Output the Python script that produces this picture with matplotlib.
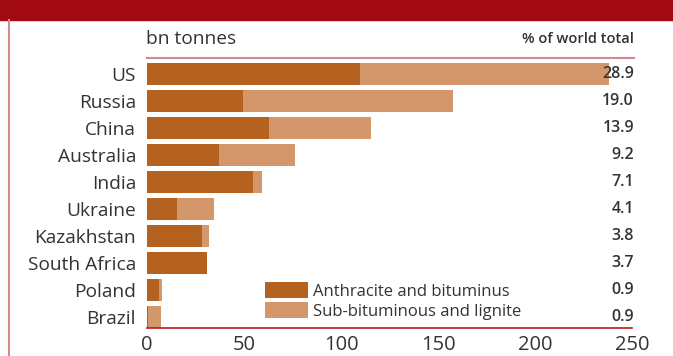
import matplotlib.pyplot as plt
from matplotlib.patches import Rectangle
from matplotlib.lines import Line2D

plt.rcParams['font.family'] = ['Open Sans', 'DejaVu Sans']

countries = ['US', 'Russia', 'China', 'Australia', 'India', 'Ukraine',
             'Kazakhstan', 'South Africa', 'Poland', 'Brazil']
anthracite = [110, 49.5, 63, 37, 54.5, 15.5, 28.5, 31, 6.2, 0.5]
sub_bituminous = [128, 108, 52.5, 39.5, 4.8, 19, 3.5, 0, 1.5, 6.7]
share = ['28.9', '19.0', '13.9', '9.2', '7.1', '4.1', '3.8', '3.7', '0.9', '0.9']
xticks = [0, 50, 100, 150, 200, 250]

dark = '#B5611F'
light = '#D4976B'
text_col = '#333333'

fig = plt.figure(figsize=(6.73, 3.56), dpi=100)
W, H = 673, 356

# red banner and left border
fig.patches.append(Rectangle((0, 1 - 20 / H), 1, 20 / H, transform=fig.transFigure,
                             color='#A00A10', zorder=0))
fig.lines.append(Line2D([9 / W, 9 / W], [0, 1 - 20 / H], transform=fig.transFigure,
                        color='#D08A8E', lw=1.5))

ax = fig.add_axes([147 / W, 1 - 328 / H, (632 - 147) / W, (328 - 58) / H])
y = list(range(len(countries)))
ax.barh(y, anthracite, height=0.81, color=dark, label='Anthracite and bituminus')
ax.barh(y, sub_bituminous, left=anthracite, height=0.81, color=light,
        label='Sub-bituminous and lignite')

ax.set_xlim(0, 250)
ax.set_ylim(9.41, -0.6)
ax.set_yticks(y)
ax.set_yticklabels(countries, fontsize=13.8, color=text_col)
ax.set_xticks(xticks)
ax.set_xticklabels([str(t) for t in xticks], fontsize=14.5, color=text_col)
ax.tick_params(length=0, pad=8)
ax.tick_params(axis='x', pad=5)
for s in ['top', 'right', 'left']:
    ax.spines[s].set_visible(False)
ax.spines['bottom'].set_color('#C0161B')
ax.spines['bottom'].set_linewidth(1.2)

for yi, s in zip(y, share):
    ax.text(251, yi, s, ha='right', va='center', fontsize=11.5,
            fontweight='semibold', color=text_col)

# top rule and headers
fig.lines.append(Line2D([147 / W, 634 / W], [1 - 58 / H, 1 - 58 / H],
                        transform=fig.transFigure, color='#D08A8E', lw=1.5))
fig.text(146 / W, 1 - 39 / H, 'bn tonnes', fontsize=13.8, color=text_col,
         ha='left', va='center')
fig.text(634 / W, 1 - 39 / H, '% of world total', fontsize=10.5, color=text_col,
         fontweight='semibold', ha='right', va='center')

ax.legend(loc='lower left', bbox_to_anchor=(250 / W, 1 - 335 / H),
          bbox_transform=fig.transFigure, frameon=False, fontsize=12,
          handlelength=2.6, handleheight=1.1, handletextpad=0.3,
          labelspacing=0.15, labelcolor=text_col)

fig.savefig('out.png', dpi=100)
